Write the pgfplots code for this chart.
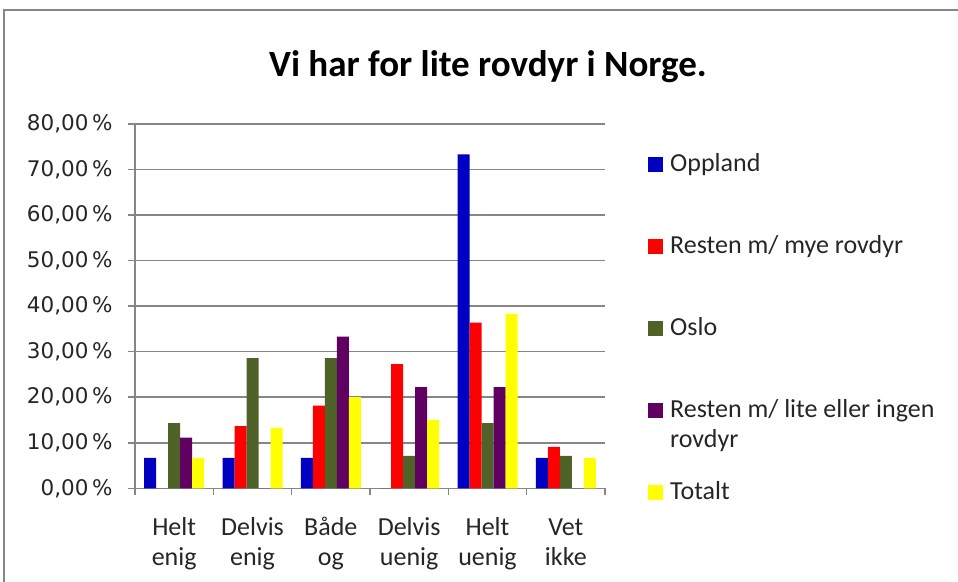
\documentclass[border=0pt]{standalone}
\usepackage{fontspec}
\setmainfont{Carlito}
\newfontfamily\tickfont{DejaVu Sans}
\usepackage{pgfplots}
\pgfplotsset{compat=1.18}
\definecolor{cBlue}{RGB}{0,0,192}
\definecolor{cRed}{RGB}{255,0,0}
\definecolor{cGreen}{RGB}{79,98,40}
\definecolor{cPurple}{RGB}{96,0,96}
\definecolor{cYellow}{RGB}{255,255,0}
\definecolor{gridgray}{RGB}{134,134,134}
\begin{document}
\begin{tikzpicture}[x=1pt,y=1pt]
\useasboundingbox (0,0) rectangle (958,581);
\draw[gridgray, line width=2pt] (4,-20) -- (4,571) -- (990,571);
\begin{axis}[
  at={(135pt,92.7pt)}, anchor=south west,
  scale only axis, width=470pt, height=364.3pt,
  ymin=0, ymax=80, ytick={0,10,...,80},
  xmin=-0.5, xmax=5.5,
  xtick={0,...,5},
  xticklabels={Helt\\enig, Delvis\\enig, Både\\og, Delvis\\uenig, Helt\\uenig, Vet\\ikke},
  minor xtick={-0.5,0.5,...,5.5},
  major x tick style={draw=none},
  minor x tick style={gridgray, line width=1.5pt},
  y tick style={gridgray, line width=1.5pt},
  major tick length=7pt, minor tick length=7pt,
  tick align=outside,
  axis x line*=bottom, axis y line*=left,
  axis line style={gridgray, line width=1.5pt, -},
  ymajorgrids, grid style={gridgray, line width=1.5pt},
  /pgf/number format/assume math mode=true,
  yticklabel={\pgfmathprintnumber[fixed,fixed zerofill,precision=2,use comma]{\tick}\,\%},
  yticklabel style={font=\tickfont\fontsize{21.5}{25}\selectfont, text=black!85, xshift=-12pt},
  xticklabel style={font=\fontsize{26}{30}\selectfont, align=center, text=black!85,
    anchor=north, text height=19pt, yshift=-48pt},
  title={Vi har for lite rovdyr i Norge.},
  title style={font=\bfseries\fontsize{37}{44}\selectfont, at={(0.751,1.13)}, anchor=base, yshift=-6pt},
  ybar=0pt, bar width=12pt,
  legend cell align=left,
  legend image code/.code={\fill[#1] (0pt,-6pt) rectangle (15pt,9pt);},
  legend style={at={(1.0915,0.923)}, anchor=north west, draw=none, fill=none,
    inner sep=0pt, row sep=55pt, column sep=5pt,
    font=\fontsize{26}{30}\selectfont, text=black!85,
    nodes={text height=17pt, text depth=6pt, inner sep=2pt}},
]
\addplot[fill=cBlue, draw=none] coordinates {(0,6.67) (1,6.67) (2,6.67) (3,0) (4,73.33) (5,6.67)};
\addplot[fill=cRed, draw=none] coordinates {(0,0) (1,13.64) (2,18.18) (3,27.27) (4,36.36) (5,9.09)};
\addplot[fill=cGreen, draw=none] coordinates {(0,14.29) (1,28.57) (2,28.57) (3,7.14) (4,14.29) (5,7.14)};
\addplot[fill=cPurple, draw=none] coordinates {(0,11.11) (1,0) (2,33.33) (3,22.22) (4,22.22) (5,0)};
\addplot[fill=cYellow, draw=none] coordinates {(0,6.67) (1,13.33) (2,20.00) (3,15.00) (4,38.33) (5,6.67)};
\legend{Oppland, Resten m/ mye rovdyr, Oslo, {\begin{tabular}[t]{@{}l@{}}Resten m/ lite eller ingen\\rovdyr\end{tabular}}, Totalt}
\end{axis}
\end{tikzpicture}
\end{document}
